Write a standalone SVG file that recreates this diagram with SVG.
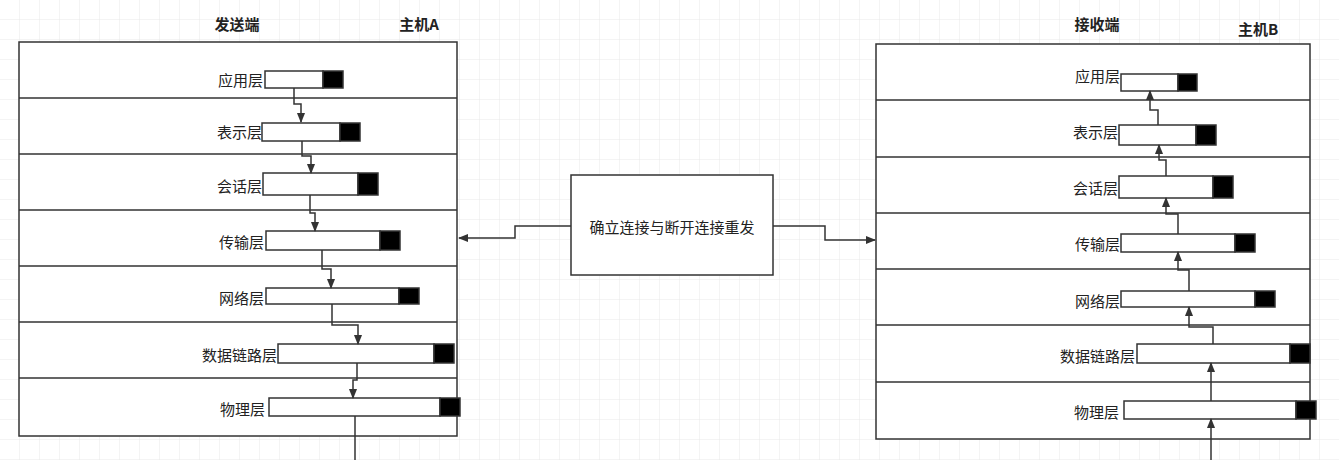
<svg xmlns="http://www.w3.org/2000/svg" width="1339" height="460" viewBox="0 0 1339 460">
<style>
text{font-family:"Noto Sans CJK SC","Liberation Sans",sans-serif;font-size:15px;fill:#222}
.t{font-weight:bold;font-size:15px}
.lb{text-anchor:end;dominant-baseline:central}
.box{fill:#fff;stroke:#333;stroke-width:1.5}
.w{fill:#fff;stroke:#333;stroke-width:1.5}
.b{fill:#000;stroke:#333;stroke-width:1.5}
.c{fill:none;stroke:#333;stroke-width:1.5;marker-end:url(#a)}
</style>
<defs>
<pattern id="g" width="20" height="20" patternUnits="userSpaceOnUse"><path d="M20 0V20H0" fill="none" stroke="#e8e8e8" stroke-width="1"/></pattern>
<marker id="a" viewBox="0 0 10 10" refX="9" refY="5" markerWidth="7" markerHeight="7" orient="auto"><path d="M0 1L10 5L0 9z" fill="#333"/></marker>
</defs>
<rect width="1339" height="460" fill="#fff"/>
<rect width="1339" height="460" fill="url(#g)"/>
<g id="hostA">
<rect class="box" x="19" y="42" width="438" height="394"/>
<path d="M19 98H457M19 154H457M19 210H457M19 266H457M19 322H457M19 378H457" stroke="#333" stroke-width="1.5"/>
<text class="t" x="237" y="30" text-anchor="middle">发送端</text>
<text class="t" x="419" y="30" text-anchor="middle">主机A</text>
<text class="lb" x="263" y="79">应用层</text><rect class="w" x="265" y="71" width="58" height="17"/><rect class="b" x="323" y="71" width="20" height="17"/>
<text class="lb" x="262" y="131">表示层</text><rect class="w" x="262" y="123" width="78" height="18"/><rect class="b" x="340" y="123" width="20" height="18"/>
<text class="lb" x="262" y="185">会话层</text><rect class="w" x="263" y="173" width="95" height="22"/><rect class="b" x="358" y="173" width="20" height="22"/>
<text class="lb" x="264" y="241">传输层</text><rect class="w" x="266" y="231" width="114" height="19"/><rect class="b" x="380" y="231" width="20" height="19"/>
<text class="lb" x="264" y="297">网络层</text><rect class="w" x="266" y="288" width="133" height="16"/><rect class="b" x="399" y="288" width="20" height="16"/>
<text class="lb" x="277" y="354">数据链路层</text><rect class="w" x="278" y="344" width="156" height="19"/><rect class="b" x="434" y="344" width="20" height="19"/>
<text class="lb" x="265" y="408">物理层</text><rect class="w" x="269" y="398" width="171" height="18"/><rect class="b" x="440" y="398" width="20" height="18"/>
</g>
<g id="hostB">
<rect class="box" x="876" y="44" width="434" height="395"/>
<path d="M876 100H1310M876 157H1310M876 213H1310M876 269H1310M876 325H1310M876 382H1310" stroke="#333" stroke-width="1.5"/>
<text class="t" x="1097" y="30" text-anchor="middle">接收端</text>
<text class="t" x="1258" y="35" text-anchor="middle">主机B</text>
<text class="lb" x="1120" y="75">应用层</text><rect class="w" x="1121" y="74" width="57" height="17"/><rect class="b" x="1178" y="74" width="19" height="17"/>
<text class="lb" x="1118" y="131">表示层</text><rect class="w" x="1119" y="125" width="77" height="20"/><rect class="b" x="1196" y="125" width="20" height="20"/>
<text class="lb" x="1118" y="187">会话层</text><rect class="w" x="1119" y="176" width="94" height="22"/><rect class="b" x="1213" y="176" width="20" height="22"/>
<text class="lb" x="1120" y="243">传输层</text><rect class="w" x="1121" y="234" width="114" height="18"/><rect class="b" x="1235" y="234" width="20" height="18"/>
<text class="lb" x="1120" y="300">网络层</text><rect class="w" x="1121" y="291" width="134" height="16"/><rect class="b" x="1255" y="291" width="20" height="16"/>
<text class="lb" x="1135" y="355">数据链路层</text><rect class="w" x="1137" y="344" width="153" height="19"/><rect class="b" x="1290" y="344" width="20" height="19"/>
<text class="lb" x="1119" y="411">物理层</text><rect class="w" x="1124" y="401" width="172" height="18"/><rect class="b" x="1296" y="401" width="20" height="18"/>
</g>
<g id="center">
<rect class="box" x="571" y="175" width="202" height="100"/>
<text x="672" y="226" text-anchor="middle" dominant-baseline="central">确立连接与断开连接重发</text>
</g>
<g id="connectors">
<path class="c" d="M294 88V104H301V122"/>
<path class="c" d="M302 141V156H311V173"/>
<path class="c" d="M310 195V213H315V231"/>
<path class="c" d="M322 250V269H331V288"/>
<path class="c" d="M332 304V325H358V344"/>
<path class="c" d="M357 363V380H353V398"/>
<path d="M355 416V460" stroke="#333" stroke-width="1.5"/>
<path class="c" d="M1211 460V419"/>
<path class="c" d="M1211 401V363"/>
<path class="c" d="M1213 344V327H1189V307"/>
<path class="c" d="M1189 291V270H1178V252"/>
<path class="c" d="M1178 234V214H1166V198"/>
<path class="c" d="M1166 176V160H1159V145"/>
<path class="c" d="M1158 125V110H1150V91"/>
<path class="c" d="M571 226H515V238H459"/>
<path class="c" d="M773 226H825V240H875"/>
</g>
</svg>
